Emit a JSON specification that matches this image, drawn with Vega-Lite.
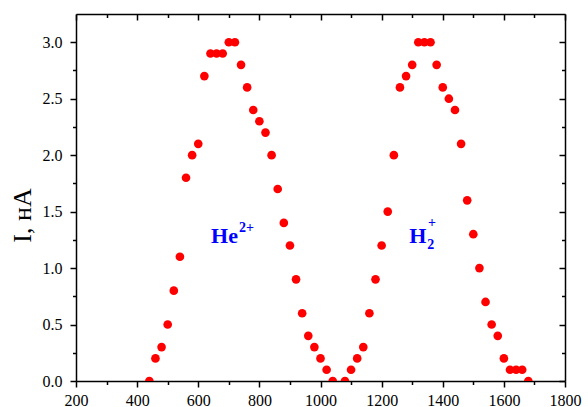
{
  "$schema": "https://vega.github.io/schema/vega-lite/v6.json",
  "width": 489,
  "height": 367,
  "autosize": {"type": "none"},
  "padding": {"left": 76, "top": 14, "right": 23, "bottom": 26},
  "background": "white",
  "config": {
    "view": {"stroke": null},
    "axis": {
      "labelFont": "Liberation Serif",
      "titleFont": "Liberation Serif",
      "domainColor": "black",
      "tickColor": "black",
      "labelColor": "black",
      "titleColor": "black",
      "domainWidth": 1.5,
      "tickWidth": 1.5,
      "grid": false,
      "labelOverlap": false,
      "labelFlush": false
    }
  },
  "datasets": {
    "pts": [
      {"x": 440, "y": 0.0}, {"x": 460, "y": 0.2}, {"x": 480, "y": 0.3}, {"x": 500, "y": 0.5},
      {"x": 520, "y": 0.8}, {"x": 540, "y": 1.1}, {"x": 560, "y": 1.8}, {"x": 580, "y": 2.0},
      {"x": 600, "y": 2.1}, {"x": 620, "y": 2.7}, {"x": 640, "y": 2.9}, {"x": 660, "y": 2.9},
      {"x": 680, "y": 2.9}, {"x": 700, "y": 3.0}, {"x": 720, "y": 3.0}, {"x": 740, "y": 2.8},
      {"x": 760, "y": 2.6}, {"x": 780, "y": 2.4}, {"x": 800, "y": 2.3}, {"x": 820, "y": 2.2},
      {"x": 840, "y": 2.0}, {"x": 860, "y": 1.7}, {"x": 880, "y": 1.4}, {"x": 900, "y": 1.2},
      {"x": 920, "y": 0.9}, {"x": 940, "y": 0.6}, {"x": 960, "y": 0.4}, {"x": 980, "y": 0.3},
      {"x": 1000, "y": 0.2}, {"x": 1020, "y": 0.1}, {"x": 1040, "y": 0.0}, {"x": 1080, "y": 0.0},
      {"x": 1100, "y": 0.1}, {"x": 1120, "y": 0.2}, {"x": 1140, "y": 0.3}, {"x": 1160, "y": 0.6},
      {"x": 1180, "y": 0.9}, {"x": 1200, "y": 1.2}, {"x": 1220, "y": 1.5}, {"x": 1240, "y": 2.0},
      {"x": 1260, "y": 2.6}, {"x": 1280, "y": 2.7}, {"x": 1300, "y": 2.8}, {"x": 1320, "y": 3.0},
      {"x": 1340, "y": 3.0}, {"x": 1360, "y": 3.0}, {"x": 1380, "y": 2.8}, {"x": 1400, "y": 2.6},
      {"x": 1420, "y": 2.5}, {"x": 1440, "y": 2.4}, {"x": 1460, "y": 2.1}, {"x": 1480, "y": 1.6},
      {"x": 1500, "y": 1.3}, {"x": 1520, "y": 1.0}, {"x": 1540, "y": 0.7}, {"x": 1560, "y": 0.5},
      {"x": 1580, "y": 0.4}, {"x": 1600, "y": 0.2}, {"x": 1620, "y": 0.1}, {"x": 1640, "y": 0.1},
      {"x": 1660, "y": 0.1}, {"x": 1680, "y": 0.0}
    ],
    "big": [
      {"t": "He", "x": 642, "y": 1.22},
      {"t": "H", "x": 1290, "y": 1.22}
    ],
    "small": [
      {"t": "2+", "x": 733, "y": 1.32},
      {"t": "+", "x": 1352, "y": 1.36},
      {"t": "2", "x": 1349, "y": 1.165}
    ]
  },
  "layer": [
    {
      "data": {"name": "pts"},
      "mark": {"type": "circle", "color": "#ff0000", "opacity": 1, "size": 75, "clip": true},
      "encoding": {
        "x": {
          "field": "x", "type": "quantitative",
          "scale": {"domain": [200, 1800], "nice": false, "zero": false},
          "axis": {
            "orient": "bottom",
            "values": [200, 300, 400, 500, 600, 700, 800, 900, 1000, 1100, 1200, 1300, 1400, 1500, 1600, 1700, 1800],
            "tickSize": {"condition": {"test": "datum.value % 200 == 0", "value": 6}, "value": 3.5},
            "labelExpr": "datum.value % 200 == 0 ? datum.label : ''",
            "format": "d",
            "labelFontSize": 16,
            "labelPadding": 5,
            "title": null
          }
        },
        "y": {
          "field": "y", "type": "quantitative",
          "scale": {"domain": [0, 3.25], "nice": false, "zero": false},
          "axis": {
            "orient": "left",
            "values": [0, 0.25, 0.5, 0.75, 1, 1.25, 1.5, 1.75, 2, 2.25, 2.5, 2.75, 3],
            "tickSize": {"condition": {"test": "(datum.value * 4) % 2 == 0", "value": 6}, "value": 3.5},
            "labelExpr": "(datum.value * 4) % 2 == 0 ? datum.label : ''",
            "format": ".1f",
            "labelFontSize": 16,
            "labelPadding": 8,
            "title": "I, нА",
            "titleFontSize": 26,
            "titleFontWeight": "normal",
            "titleX": -54,
            "titleY": 201,
            "titleAlign": "center",
            "titleBaseline": "middle"
          }
        }
      }
    },
    {
      "data": {"name": "big"},
      "mark": {"type": "text", "font": "Liberation Serif", "fontSize": 22, "fontWeight": "bold", "color": "#0000ff", "align": "left", "baseline": "alphabetic"},
      "encoding": {
        "x": {
          "field": "x", "type": "quantitative",
          "axis": {
            "orient": "top",
            "values": [200, 300, 400, 500, 600, 700, 800, 900, 1000, 1100, 1200, 1300, 1400, 1500, 1600, 1700, 1800],
            "tickSize": {"condition": {"test": "datum.value % 200 == 0", "value": -6}, "value": -3.5},
            "labels": false,
            "title": null
          }
        },
        "y": {
          "field": "y", "type": "quantitative",
          "axis": {
            "orient": "right",
            "values": [0, 0.25, 0.5, 0.75, 1, 1.25, 1.5, 1.75, 2, 2.25, 2.5, 2.75, 3],
            "tickSize": {"condition": {"test": "(datum.value * 4) % 2 == 0", "value": -6}, "value": -3.5},
            "labels": false,
            "title": null
          }
        },
        "text": {"field": "t"}
      }
    },
    {
      "data": {"name": "small"},
      "mark": {"type": "text", "font": "Liberation Serif", "fontSize": 14, "fontWeight": "bold", "color": "#0000ff", "align": "left", "baseline": "alphabetic"},
      "encoding": {
        "x": {"field": "x", "type": "quantitative", "axis": null},
        "y": {"field": "y", "type": "quantitative", "axis": null},
        "text": {"field": "t"}
      }
    }
  ],
  "resolve": {"axis": {"x": "independent", "y": "independent"}}
}
